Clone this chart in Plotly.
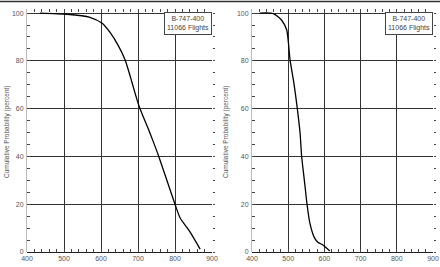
import plotly.graph_objects as go

# Left panel: x value vs cumulative probability (%)
left_x = [435, 508, 570, 603, 624, 646, 665, 680, 692, 703, 715, 728, 741, 755, 778, 800, 814, 840, 868]
left_y = [100, 99.5, 98.2, 95.7, 92, 86.6, 80.5, 73, 66.5, 61, 56.3, 51.5, 46.3, 40.5, 30, 20, 14.2, 8.5, 1.2]

right_x = [422, 459, 482, 496, 505, 516, 525, 533, 537, 546, 552, 560, 573, 582, 596, 615]
right_y = [100, 99.8, 97, 92.9, 80.5, 70.4, 60.2, 49.4, 40.3, 28.2, 20, 12, 5.8, 4.1, 2.9, 0.4]

x_grid_ticks = [500, 600, 700, 800, 900]
x_first_tick = [400]
y_ticks = [0, 20, 40, 60, 80, 100]
x_minor_ticks = list(range(400, 901, 20))
y_minor_ticks = list(range(0, 101, 5))
legend_text = "B-747-400<br>11066 Flights"
y_title = "Cumulative Probability (percent)"

FONT = "Liberation Sans, Arial, sans-serif"
TXT = "#555555"
GRID = "#333333"
TICKC = "#444444"

fig = go.Figure()
fig.add_trace(go.Scatter(x=left_x, y=left_y, mode="lines", line=dict(color="black", width=1.3, shape="spline", smoothing=0.6),
                         xaxis="x", yaxis="y", showlegend=False, hoverinfo="skip"))
fig.add_trace(go.Scatter(x=right_x, y=right_y, mode="lines", line=dict(color="black", width=1.3, shape="spline", smoothing=0.6),
                         xaxis="x2", yaxis="y2", showlegend=False, hoverinfo="skip"))

xdomains = {"": [27/440, 212/440], "2": [252/440, 433/440]}
ydom = [(267-252)/267, (267-9)/267]
XR = [400, 900]
YR = [0, 101.7]

def xax(dom, anchor):
    return dict(domain=dom, anchor=anchor, range=XR, tickmode="array",
                tickvals=x_grid_ticks, ticktext=[str(v) for v in x_grid_ticks],
                showgrid=True, gridcolor=GRID, gridwidth=1, zeroline=False,
                showline=False, ticks="inside", ticklen=3, tickcolor=TICKC, automargin=False,
                tickfont=dict(family=FONT, size=7, color=TXT), ticklabelstandoff=1,
                minor=dict(tickmode="array", tickvals=x_minor_ticks, ticks="inside", ticklen=3,
                           tickcolor=TICKC, tickwidth=1, showgrid=False))

def yax(anchor):
    return dict(domain=ydom, anchor=anchor, range=YR, tickmode="array",
                tickvals=y_ticks, ticktext=[str(v) for v in y_ticks],
                showgrid=True, gridcolor=GRID, gridwidth=1,
                zeroline=True, zerolinecolor="#222", zerolinewidth=1.2,
                showline=True, linecolor="#bbbbbb", linewidth=1, ticks="inside", ticklen=3, tickcolor=TICKC,
                automargin=False, tickfont=dict(family=FONT, size=7, color=TXT), ticklabelstandoff=1,
                minor=dict(tickmode="array", tickvals=y_minor_ticks, ticks="inside", ticklen=3,
                           tickcolor=TICKC, tickwidth=1, showgrid=False))

def x_label_only(over, anchor):
    return dict(overlaying=over, anchor=anchor, range=XR, tickmode="array", tickvals=x_first_tick,
                ticktext=[str(v) for v in x_first_tick], showgrid=False, zeroline=False, showline=False,
                ticks="", side="bottom", automargin=False, ticklabelstandoff=1,
                tickfont=dict(family=FONT, size=7, color=TXT))

def x_top(over, anchor):
    return dict(overlaying=over, anchor=anchor, range=XR, side="top", showticklabels=False,
                tickmode="array", tickvals=x_grid_ticks, ticks="inside", ticklen=3, tickcolor=TICKC,
                showgrid=False, zeroline=False, showline=False, automargin=False,
                minor=dict(tickmode="array", tickvals=x_minor_ticks, ticks="inside", ticklen=3,
                           tickcolor=TICKC, tickwidth=1, showgrid=False))

def y_right(over, anchor):
    return dict(overlaying=over, anchor=anchor, range=YR, side="right", showticklabels=False,
                tickmode="array", tickvals=y_ticks, ticks="outside", ticklen=2, tickcolor=TICKC,
                showgrid=False, zeroline=False, showline=False, automargin=False,
                minor=dict(tickmode="array", tickvals=y_minor_ticks, ticks="outside", ticklen=2,
                           tickcolor=TICKC, tickwidth=1, showgrid=False))

fig.update_layout(
    width=440, height=267, margin=dict(l=0, r=0, t=0, b=0),
    paper_bgcolor="white", plot_bgcolor="white",
    xaxis=xax(xdomains[""], "y"), yaxis=yax("x"),
    xaxis2=xax(xdomains["2"], "y2"), yaxis2=yax("x2"),
    xaxis3=x_label_only("x", "y"), xaxis4=x_label_only("x2", "y2"),
    xaxis5=x_top("x", "y"), xaxis6=x_top("x2", "y2"),
    yaxis3=y_right("y", "x"), yaxis4=y_right("y2", "x2"),
    showlegend=False,
)
for xa, ya in [("x3", "y"), ("x4", "y2"), ("x5", "y"), ("x6", "y2"), ("x", "y3"), ("x2", "y4")]:
    fig.add_trace(go.Scatter(x=[None], y=[None], xaxis=xa, yaxis=ya, showlegend=False, hoverinfo="skip"))

annots = []
for xd in xdomains.values():
    annots.append(dict(xref="paper", yref="paper", x=xd[1], y=(267-12)/267, xanchor="right", yanchor="top",
                       text=legend_text, showarrow=False, align="center",
                       font=dict(family=FONT, size=7, color="#444"),
                       bordercolor="#444", borderwidth=1, borderpad=2, bgcolor="white"))
for xp in [7/440, 226/440]:
    annots.append(dict(xref="paper", yref="paper", x=xp, y=(267-132)/267, xanchor="center", yanchor="middle",
                       text=y_title, textangle=-90, showarrow=False,
                       font=dict(family=FONT, size=6.5, color=TXT)))
fig.update_layout(annotations=annots)

fig.add_shape(type="line", xref="paper", yref="paper", x0=0, x1=1, y0=(267-1.5)/267, y1=(267-1.5)/267,
              line=dict(color="#333", width=1.5))

fig.write_html("out.html")
